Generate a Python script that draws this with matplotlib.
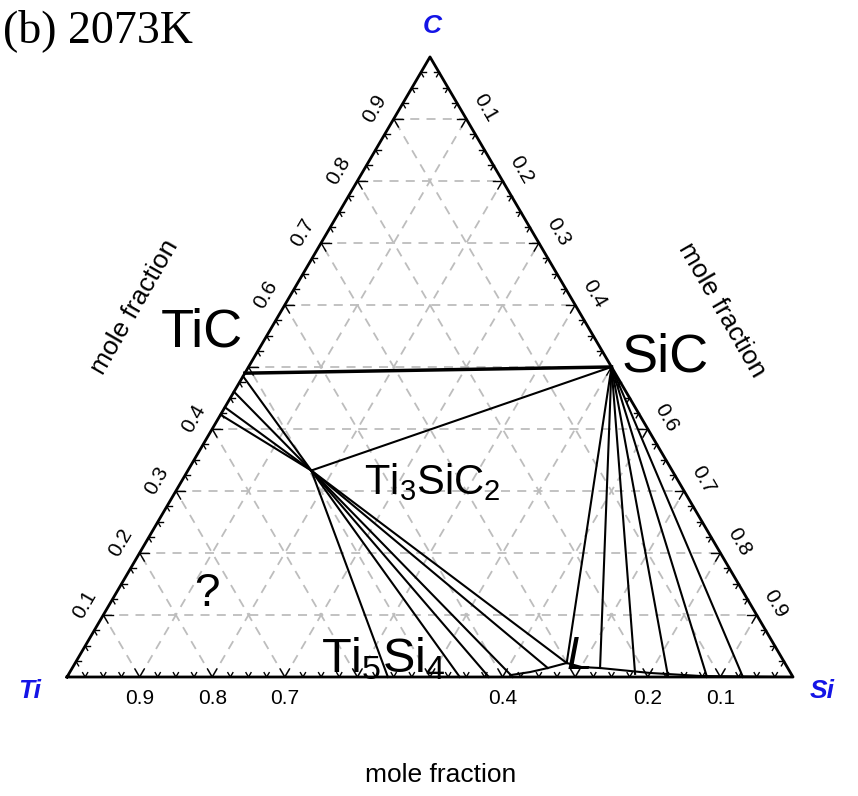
import numpy as np
import matplotlib
matplotlib.use("Agg")
import matplotlib.pyplot as plt

plt.rcParams['font.family'] = ['Liberation Sans', 'DejaVu Sans']
plt.rcParams['mathtext.fontset'] = 'custom'
plt.rcParams['mathtext.rm'] = 'Liberation Sans'
plt.rcParams['mathtext.it'] = 'Liberation Sans:italic'

# compositions given as (x_Si, x_C); x_Ti = 1 - x_Si - x_C
TIC = (0.0, 0.49)
SIC = (0.5, 0.5)
TI3SIC2 = (0.17, 0.333)
TI5SI4 = (0.442, 0.0)
# TiC + Ti3SiC2 tie lines, C content on the Ti-C edge
TIC_SIDE_C = [0.485, 0.46, 0.435, 0.423]
# Ti3SiC2 + liquid tie lines (liquid end)
T312_L_SI = [0.541, 0.581, 0.614, 0.655, 0.677]
T312_L_C = [0.0, 0.0, 0.0, 0.0145, 0.0226]
# SiC + liquid tie lines (liquid end)
SIC_L_SI = [0.677, 0.727, 0.780, 0.827, 0.8815, 0.931]
SIC_L_C = [0.0226, 0.0145, 0.005, 0.0016, 0.0, 0.0]
# liquid boundary
LIQ_SI = [0.609, 0.634, 0.655, 0.677, 0.701, 0.727, 0.800, 0.872, 1.0]
LIQ_C = [0.003, 0.008, 0.0145, 0.0226, 0.016, 0.0145, 0.0065, 0.0016, 0.0]

# axis tick labels
LEFT_LABELS = ['0.1', '0.2', '0.3', '0.4', '', '0.6', '0.7', '0.8', '0.9']    # x_C
RIGHT_LABELS = ['0.1', '0.2', '0.3', '0.4', '', '0.6', '0.7', '0.8', '0.9']   # x_Si
BOTTOM_LABELS = ['0.9', '0.8', '0.7', '', '', '0.4', '', '0.2', '0.1']        # x_Ti

S3 = np.sqrt(3) / 2


def xy(si, c):
    si = np.asarray(si, dtype=float)
    c = np.asarray(c, dtype=float)
    return si + c / 2, c * S3


def px(x, y):
    # pixel position -> data coords (for text placement)
    return (x - 67) / 726, (677 - y) / 716


fig = plt.figure(figsize=(8.58, 7.96), dpi=100)
ax = fig.add_axes([0, 0, 1, 1])
ax.set_xlim(-67 / 726, (858 - 67) / 726)
ax.set_ylim(-(796 - 677) / 716, 677 / 716)
ax.axis('off')

# grid
gkw = dict(color='#bdbdbd', lw=1.3, dashes=(5, 4), zorder=1)
for k in range(1, 10):
    f = k / 10
    ax.plot(*xy([0, 1 - f], [f, f]), **gkw)          # const C
    ax.plot(*xy([f, f], [0, 1 - f]), **gkw)          # const Si
    ax.plot(*xy([1 - f, 0], [0, 1 - f]), **gkw)      # const Ti

# ticks
for k in range(1, 40):
    f = k / 40
    L = 0.013 if k % 4 == 0 else 0.007
    # bottom edge
    x0, y0 = xy(f, 0)
    for d in [(0.5, S3), (-0.5, S3)]:
        ax.plot([x0, x0 + L * d[0]], [y0, y0 + L * d[1]], color='k', lw=1.0, zorder=3)
    # left edge
    x0, y0 = xy(0, f)
    for d in [(1, 0), (0.5, -S3)]:
        ax.plot([x0, x0 + L * d[0]], [y0, y0 + L * d[1]], color='k', lw=1.0, zorder=3)
    # right edge
    x0, y0 = xy(f, 1 - f)
    for d in [(-1, 0), (-0.5, -S3)]:
        ax.plot([x0, x0 + L * d[0]], [y0, y0 + L * d[1]], color='k', lw=1.0, zorder=3)

# triangle
ax.plot(*xy([0, 1, 0, 0], [0, 0, 1, 0]), color='k', lw=2.0, zorder=4)

# tick labels
off = 0.03
for k in range(1, 10):
    f = k / 10
    x0, y0 = xy(0, f)
    ax.text(x0 - off * 0.866, y0 + off * 0.5, LEFT_LABELS[k - 1], rotation=60,
            ha='center', va='center', fontsize=15)
    x0, y0 = xy(f, 1 - f)
    ax.text(x0 + off * 0.866, y0 + off * 0.5, RIGHT_LABELS[k - 1], rotation=-60,
            ha='center', va='center', fontsize=15)
    x0, y0 = xy(f, 0)
    ax.text(x0, y0 - 0.03, BOTTOM_LABELS[k - 1], ha='center', va='center', fontsize=15)

# phase boundaries
lkw = dict(color='k', lw=1.5, zorder=5)
ax.plot(*xy([TIC[0], SIC[0]], [TIC[1], SIC[1]]), color='k', lw=2.5, zorder=5)
ax.plot(*xy([TI3SIC2[0], SIC[0]], [TI3SIC2[1], SIC[1]]), **lkw)
for c in TIC_SIDE_C:
    ax.plot(*xy([0, TI3SIC2[0]], [c, TI3SIC2[1]]), **lkw)
ax.plot(*xy([TI3SIC2[0], TI5SI4[0]], [TI3SIC2[1], TI5SI4[1]]), **lkw)
for s, c in zip(T312_L_SI, T312_L_C):
    ax.plot(*xy([TI3SIC2[0], s], [TI3SIC2[1], c]), **lkw)
for s, c in zip(SIC_L_SI, SIC_L_C):
    ax.plot(*xy([SIC[0], s], [SIC[1], c]), **lkw)
ax.plot(*xy(LIQ_SI, LIQ_C), **lkw)

# phase labels
ax.text(*px(243, 347), 'TiC', ha='right', va='baseline', fontsize=39)
ax.text(*px(621, 372), 'SiC', ha='left', va='baseline', fontsize=39)
ax.text(*px(364, 494), r'Ti$_3$SiC$_2$', ha='left', va='baseline', fontsize=30)
ax.text(*px(383, 672), r'Ti$_5$Si$_4$', ha='center', va='baseline', fontsize=35)
ax.text(*px(579, 669), 'L', ha='center', va='baseline', fontsize=33, style='italic')
ax.text(*px(207, 606), '?', ha='center', va='baseline', fontsize=33)

# axis titles
ax.text(*px(135, 307), 'mole fraction', rotation=60, ha='center', va='center', fontsize=19)
ax.text(*px(722, 310), 'mole fraction', rotation=-60, ha='center', va='center', fontsize=19)
ax.text(*px(441, 775), 'mole fraction', ha='center', va='center', fontsize=19)

# corner labels
ckw = dict(color='#1414e6', fontsize=19, fontweight='bold', style='italic',
           ha='center', va='center')
ax.text(*px(432, 26), 'C', **ckw)
ax.text(*px(30, 691), 'Ti', **ckw)
ax.text(*px(822, 691), 'Si', **ckw)

ax.text(*px(3, 42), '(b) 2073K', family='Liberation Serif', fontsize=33,
        ha='left', va='baseline')

fig.savefig('out.png', dpi=100)
